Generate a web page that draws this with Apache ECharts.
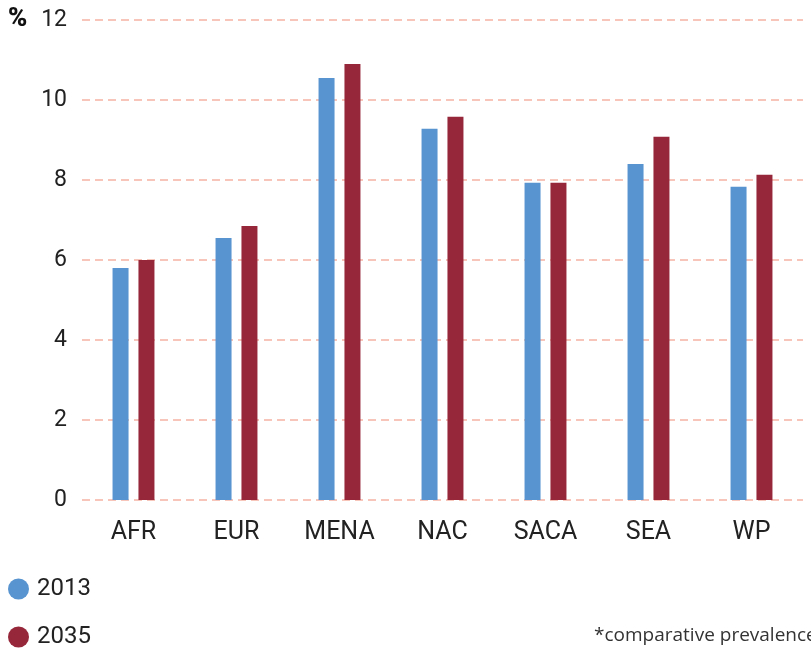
<!DOCTYPE html>
<html>
<head>
<meta charset="utf-8">
<script src="https://cdn.jsdelivr.net/npm/echarts@6/dist/echarts.min.js"></script>
<style>
  html, body { margin: 0; padding: 0; background: #fff; }
  #chart { width: 811px; height: 653px; }
</style>
</head>
<body>
<div id="chart"></div>
<script>
// regions
const regions = ['AFR', 'EUR', 'MENA', 'NAC', 'SACA', 'SEA', 'WP']
// prevalence (%)
const values2013 = [5.8, 6.55, 10.55, 9.28, 7.93, 8.4, 7.83]
const values2035 = [6.0, 6.85, 10.9, 9.58, 7.93, 9.08, 8.13]
const yTicks = [0, 2, 4, 6, 8, 10, 12]

const blue = '#5794d0'
const red = '#96273b'

const legendBase = {
  left: 3,
  itemWidth: 21,
  itemHeight: 21,
  icon: 'circle',
  textStyle: { fontSize: 24, color: '#222', padding: [0, 0, 0, 3] }
}

const chart = echarts.init(document.getElementById('chart'))
chart.setOption({
  animation: false,
  textStyle: { fontFamily: 'Roboto' },
  grid: { left: 82, top: 20, width: 721, height: 480 },
  legend: [
    Object.assign({ top: 572, data: ['2013'] }, legendBase),
    Object.assign({ top: 620, data: ['2035'] }, legendBase)
  ],
  xAxis: {
    type: 'category',
    data: regions,
    axisLine: { show: false },
    axisTick: { show: false },
    axisLabel: { fontSize: 25, color: '#222', margin: 20 }
  },
  yAxis: {
    type: 'value',
    min: yTicks[0],
    max: yTicks[yTicks.length - 1],
    interval: 2,
    axisLine: { show: false },
    axisTick: { show: false },
    axisLabel: { fontSize: 23, color: '#222', margin: 15 },
    splitLine: {
      lineStyle: { color: '#f5b3a3', width: 1.6, type: [8, 5] }
    }
  },
  series: [
    {
      name: '2013',
      type: 'bar',
      data: values2013,
      barWidth: 16,
      barGap: '62%',
      itemStyle: { color: blue }
    },
    {
      name: '2035',
      type: 'bar',
      data: values2035,
      barWidth: 16,
      itemStyle: { color: red }
    }
  ],
  graphic: [
    {
      type: 'text',
      left: 8,
      top: 6,
      style: { text: '%', font: '900 26px Roboto', fill: '#111' }
    },
    {
      type: 'text',
      left: 594,
      top: 626,
      style: { text: '*comparative prevalence', font: '19px "Open Sans"', fill: '#333' }
    }
  ]
})
</script>
</body>
</html>
